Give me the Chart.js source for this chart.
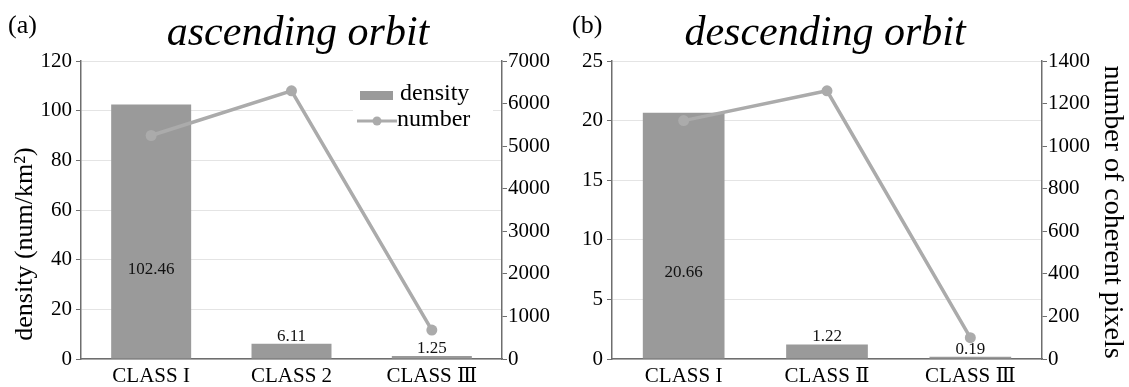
<!DOCTYPE html>
<html>
<head>
<meta charset="utf-8">
<script src="https://cdn.jsdelivr.net/npm/chart.js@4.4.1/dist/chart.umd.min.js"></script>
<style>
  html, body { margin: 0; padding: 0; background: #ffffff; }
  #wrap { position: relative; width: 1129px; height: 387px; overflow: hidden; }
  #wrap canvas { position: absolute; top: 0; }
</style>
</head>
<body>
<div id="wrap">
  <canvas id="asc" width="560" height="387" style="left:0;width:560px;height:387px"></canvas>
  <canvas id="desc" width="569" height="387" style="left:560px;width:569px;height:387px"></canvas>
</div>
<script>
// Ascending orbit
const ascCategories = ['CLASS I', 'CLASS 2', 'CLASS \u2162'];
const ascDensity = [102.46, 6.11, 1.25];
const ascPixels = [5250, 6300, 680];
const ascDensityTicks = [0, 20, 40, 60, 80, 100, 120];
const ascPixelTicks = [0, 1000, 2000, 3000, 4000, 5000, 6000, 7000];

// Descending orbit
const descCategories = ['CLASS I', 'CLASS \u2161', 'CLASS \u2162'];
const descDensity = [20.66, 1.22, 0.19];
const descPixels = [1120, 1260, 100];
const descDensityTicks = [0, 5, 10, 15, 20, 25];
const descPixelTicks = [0, 200, 400, 600, 800, 1000, 1200, 1400];

const SERIF = '"Liberation Serif", "DejaVu Serif", serif';
const BAR_COLOR = '#9a9a9a';
const LINE_COLOR = '#ababab';
const AXIS_COLOR = '#6e6e6e';
const GRID_COLOR = '#e4e4e4';

Chart.defaults.font.family = SERIF;
Chart.defaults.color = '#000';

// Text overlays: panel letter, italic title, axis titles, bar value labels, legend
const overlay = {
  id: 'overlay',
  afterDatasetsDraw(chart, args, o) {
    const ctx = chart.ctx;
    const meta = chart.getDatasetMeta(0);
    const yMax = chart.scales.y.max;
    ctx.save();
    ctx.fillStyle = '#111';
    ctx.font = '17px ' + SERIF;
    ctx.textAlign = 'center';
    meta.data.forEach((bar, i) => {
      const v = chart.data.datasets[0].data[i];
      const txt = v.toFixed(2);
      if (v / yMax > 0.5) {
        ctx.textBaseline = 'middle';
        ctx.fillText(txt, bar.x, bar.base - 0.35 * (bar.base - bar.y));
      } else {
        ctx.textBaseline = 'alphabetic';
        ctx.fillText(txt, bar.x, bar.y - 3);
      }
    });
    ctx.restore();
  },
  afterDraw(chart, args, o) {
    const ctx = chart.ctx;
    ctx.save();
    ctx.fillStyle = '#000';
    ctx.textBaseline = 'alphabetic';
    ctx.textAlign = 'left';
    ctx.font = '26px ' + SERIF;
    ctx.fillText(o.letter, o.letterX, 33);

    ctx.textAlign = 'center';
    ctx.font = 'italic 42px ' + SERIF;
    ctx.fillText(o.title, o.titleX, 45);

    ctx.textBaseline = 'middle';
    if (o.yTitle) {
      ctx.save();
      ctx.font = '26px ' + SERIF;
      ctx.translate(o.yTitleX, o.yTitleY);
      ctx.rotate(-Math.PI / 2);
      ctx.fillText(o.yTitle, 0, 0);
      ctx.restore();
    }
    if (o.y1Title) {
      ctx.save();
      ctx.font = '28px ' + SERIF;
      ctx.translate(o.y1TitleX, o.y1TitleY);
      ctx.rotate(Math.PI / 2);
      ctx.fillText(o.y1Title, 0, 0);
      ctx.restore();
    }

    if (o.legend) {
      const L = o.legend;
      ctx.fillStyle = '#ffffff';
      ctx.fillRect(L.x, L.y, L.w, L.h);
      const ds = chart.data.datasets;
      ctx.fillStyle = ds[0].backgroundColor;
      ctx.fillRect(L.x + 7, L.y + 8, 33, 9);
      ctx.strokeStyle = ds[1].borderColor;
      ctx.lineWidth = 3;
      ctx.beginPath();
      ctx.moveTo(L.x + 4, L.y + 38);
      ctx.lineTo(L.x + 44, L.y + 38);
      ctx.stroke();
      ctx.fillStyle = ds[1].pointBackgroundColor;
      ctx.beginPath();
      ctx.arc(L.x + 24, L.y + 38, 4.5, 0, Math.PI * 2);
      ctx.fill();
      ctx.fillStyle = '#000';
      ctx.textAlign = 'left';
      ctx.font = '24px ' + SERIF;
      ctx.fillText(ds[0].label, L.x + 47, L.y + 11);
      ctx.fillText(ds[1].label, L.x + 44, L.y + 37);
    }
    ctx.restore();
  }
};

function fixedTicks(list) {
  return scale => { scale.ticks = list.map(v => ({ value: v })); };
}
const plainNumber = v => String(v);

function makePanel(id, cats, density, pixels, dTicks, pTicks, dims, extra) {
  return new Chart(document.getElementById(id), {
    data: {
      labels: cats,
      datasets: [
        {
          type: 'bar', label: 'density', data: density, yAxisID: 'y', order: 2,
          backgroundColor: BAR_COLOR, barPercentage: 0.57, categoryPercentage: 1
        },
        {
          type: 'line', label: 'number', data: pixels, yAxisID: 'y1', order: 1,
          borderColor: LINE_COLOR, borderWidth: 3.5, pointRadius: 5.5,
          pointBackgroundColor: LINE_COLOR, pointBorderWidth: 0, tension: 0
        }
      ]
    },
    options: {
      responsive: false,
      animation: false,
      events: [],
      layout: { padding: { top: dims.top, left: 0, right: 0, bottom: 0 } },
      plugins: { legend: { display: false }, tooltip: { enabled: false }, overlay: extra },
      scales: {
        x: {
          grid: { display: false, drawTicks: false },
          border: { color: AXIS_COLOR, width: 1.5 },
          ticks: { color: '#000', font: { family: SERIF, size: 21 }, padding: 5, maxRotation: 0 },
          afterFit: s => { s.height = dims.bottom; }
        },
        y: {
          position: 'left', min: dTicks[0], max: dTicks[dTicks.length - 1],
          afterBuildTicks: fixedTicks(dTicks),
          grid: { color: GRID_COLOR, lineWidth: 1, tickColor: AXIS_COLOR, tickLength: 5, drawTicks: true },
          border: { color: AXIS_COLOR, width: 1.5 },
          ticks: { color: '#000', font: { family: SERIF, size: 21 }, padding: 4, callback: plainNumber },
          afterFit: s => { s.width = dims.left; }
        },
        y1: {
          position: 'right', min: pTicks[0], max: pTicks[pTicks.length - 1],
          afterBuildTicks: fixedTicks(pTicks),
          grid: { drawOnChartArea: false, tickColor: AXIS_COLOR, tickLength: 5, drawTicks: true },
          border: { color: AXIS_COLOR, width: 1.5 },
          ticks: { color: '#000', font: { family: SERIF, size: 21 }, padding: 1, callback: plainNumber },
          afterFit: s => { s.width = dims.right; }
        }
      }
    },
    plugins: [overlay]
  });
}

makePanel('asc', ascCategories, ascDensity, ascPixels, ascDensityTicks, ascPixelTicks,
  { top: 61, bottom: 28, left: 81, right: 58 },
  {
    letter: '(a)', letterX: 8, title: 'ascending orbit', titleX: 298,
    yTitle: 'density (num/km\u00B2)', yTitleX: 25, yTitleY: 244,
    legend: { x: 353, y: 83, w: 140, h: 48 }
  });

makePanel('desc', descCategories, descDensity, descPixels, descDensityTicks, descPixelTicks,
  { top: 61, bottom: 28, left: 52, right: 87 },
  {
    letter: '(b)', letterX: 12, title: 'descending orbit', titleX: 265,
    y1Title: 'number of coherent pixels', y1TitleX: 552, y1TitleY: 212
  });
</script>
</body>
</html>
